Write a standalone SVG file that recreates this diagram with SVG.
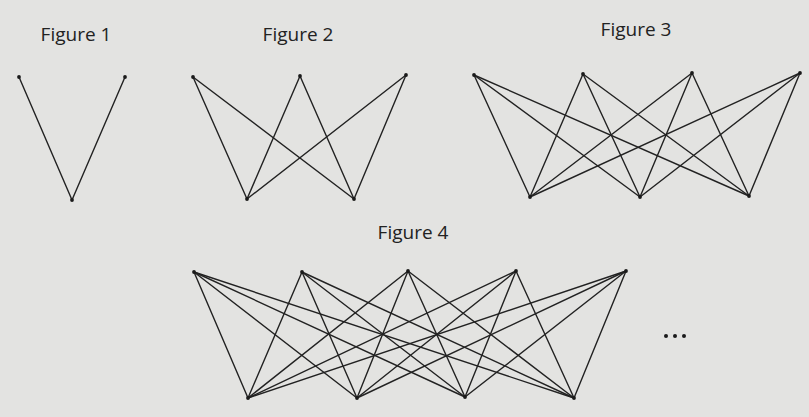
<svg xmlns="http://www.w3.org/2000/svg" width="809" height="417" viewBox="0 0 809 417">
<style>
.bg{fill:#e3e3e1}
.lbl{font-family:"Open Sans","Noto Sans",sans-serif;font-size:19px;fill:#222;text-anchor:middle}
.e line{stroke:#222;stroke-width:1.4;stroke-linecap:round}
.v{fill:#1a1a1a}
</style>
<rect class="bg" width="809" height="417"/>
<text class="lbl" x="76" y="41">Figure 1</text>
<text class="lbl" x="298" y="41">Figure 2</text>
<text class="lbl" x="636" y="36">Figure 3</text>
<text class="lbl" x="413" y="239">Figure 4</text>
<g id="connectors" class="e">
<line x1="19" y1="77" x2="72" y2="200"/><line x1="125" y1="77" x2="72" y2="200"/>
<line x1="193" y1="77" x2="247" y2="199"/><line x1="193" y1="77" x2="354" y2="199"/>
<line x1="300" y1="76" x2="247" y2="199"/><line x1="300" y1="76" x2="354" y2="199"/>
<line x1="406" y1="75" x2="247" y2="199"/><line x1="406" y1="75" x2="354" y2="199"/>
<line x1="474" y1="75" x2="530" y2="197"/><line x1="474" y1="75" x2="640" y2="197"/><line x1="474" y1="75" x2="749" y2="196"/>
<line x1="583" y1="74" x2="530" y2="197"/><line x1="583" y1="74" x2="640" y2="197"/><line x1="583" y1="74" x2="749" y2="196"/>
<line x1="692" y1="73" x2="530" y2="197"/><line x1="692" y1="73" x2="640" y2="197"/><line x1="692" y1="73" x2="749" y2="196"/>
<line x1="800" y1="73" x2="530" y2="197"/><line x1="800" y1="73" x2="640" y2="197"/><line x1="800" y1="73" x2="749" y2="196"/>
<line x1="194" y1="272" x2="248" y2="398"/><line x1="194" y1="272" x2="357" y2="398"/><line x1="194" y1="272" x2="465" y2="397"/><line x1="194" y1="272" x2="574" y2="398"/>
<line x1="302" y1="272" x2="248" y2="398"/><line x1="302" y1="272" x2="357" y2="398"/><line x1="302" y1="272" x2="465" y2="397"/><line x1="302" y1="272" x2="574" y2="398"/>
<line x1="408" y1="271" x2="248" y2="398"/><line x1="408" y1="271" x2="357" y2="398"/><line x1="408" y1="271" x2="465" y2="397"/><line x1="408" y1="271" x2="574" y2="398"/>
<line x1="516" y1="271" x2="248" y2="398"/><line x1="516" y1="271" x2="357" y2="398"/><line x1="516" y1="271" x2="465" y2="397"/><line x1="516" y1="271" x2="574" y2="398"/>
<line x1="626" y1="271" x2="248" y2="398"/><line x1="626" y1="271" x2="357" y2="398"/><line x1="626" y1="271" x2="465" y2="397"/><line x1="626" y1="271" x2="574" y2="398"/>
</g>
<g id="fig1" class="v"><circle cx="19" cy="77" r="1.9"/><circle cx="125" cy="77" r="1.9"/><circle cx="72" cy="200" r="1.9"/></g>
<g id="fig2" class="v"><circle cx="193" cy="77" r="1.9"/><circle cx="300" cy="76" r="1.9"/><circle cx="406" cy="75" r="1.9"/><circle cx="247" cy="199" r="1.9"/><circle cx="354" cy="199" r="1.9"/></g>
<g id="fig3" class="v"><circle cx="474" cy="75" r="1.9"/><circle cx="583" cy="74" r="1.9"/><circle cx="692" cy="73" r="1.9"/><circle cx="800" cy="73" r="1.9"/><circle cx="530" cy="197" r="1.9"/><circle cx="640" cy="197" r="1.9"/><circle cx="749" cy="196" r="1.9"/></g>
<g id="fig4" class="v"><circle cx="194" cy="272" r="1.9"/><circle cx="302" cy="272" r="1.9"/><circle cx="408" cy="271" r="1.9"/><circle cx="516" cy="271" r="1.9"/><circle cx="626" cy="271" r="1.9"/><circle cx="248" cy="398" r="1.9"/><circle cx="357" cy="398" r="1.9"/><circle cx="465" cy="397" r="1.9"/><circle cx="574" cy="398" r="1.9"/></g>
<g id="ellipsis" class="v"><circle cx="666" cy="336" r="2"/><circle cx="675" cy="336" r="2"/><circle cx="684" cy="336" r="2"/></g>
</svg>
